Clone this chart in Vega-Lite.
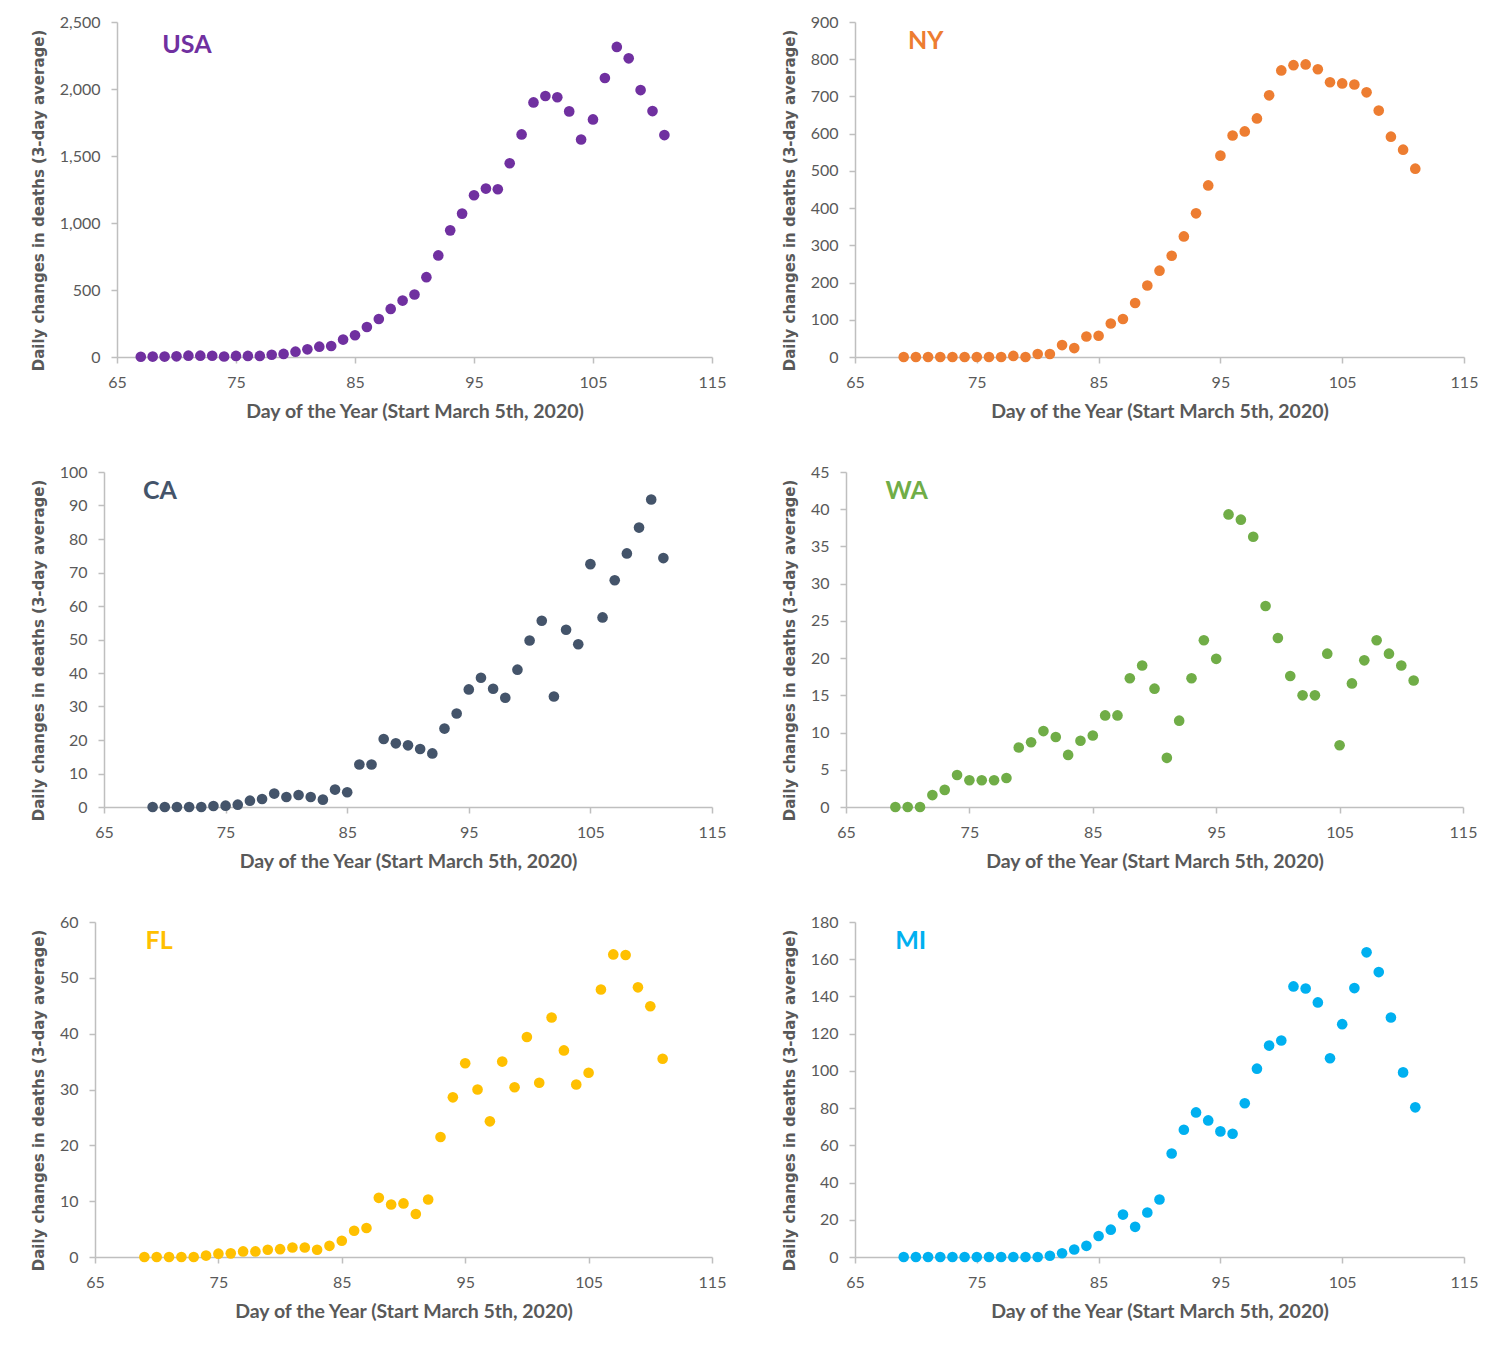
{
"$schema": "https://vega.github.io/schema/vega-lite/v6.json",
"padding": {"left": 31, "top": 14, "right": 5, "bottom": 5},
"background": "white",
"datasets": {
"deaths": [
{"state":"USA","day":67,"deaths":2},{"state":"USA","day":68,"deaths":3},{"state":"USA","day":69,"deaths":3},{"state":"USA","day":70,"deaths":5},{"state":"USA","day":71,"deaths":10},{"state":"USA","day":72,"deaths":10},{"state":"USA","day":73,"deaths":9},{"state":"USA","day":74,"deaths":4},{"state":"USA","day":75,"deaths":8},{"state":"USA","day":76,"deaths":8},{"state":"USA","day":77,"deaths":8},{"state":"USA","day":78,"deaths":17},{"state":"USA","day":79,"deaths":23},{"state":"USA","day":80,"deaths":40},{"state":"USA","day":81,"deaths":57},{"state":"USA","day":82,"deaths":77},{"state":"USA","day":83,"deaths":82},{"state":"USA","day":84,"deaths":130},{"state":"USA","day":85,"deaths":162},{"state":"USA","day":86,"deaths":224},{"state":"USA","day":87,"deaths":284},{"state":"USA","day":88,"deaths":359},{"state":"USA","day":89,"deaths":421},{"state":"USA","day":90,"deaths":466},{"state":"USA","day":91,"deaths":596},{"state":"USA","day":92,"deaths":758},{"state":"USA","day":93,"deaths":945},{"state":"USA","day":94,"deaths":1070},{"state":"USA","day":95,"deaths":1207},{"state":"USA","day":96,"deaths":1257},{"state":"USA","day":97,"deaths":1252},{"state":"USA","day":98,"deaths":1446},{"state":"USA","day":99,"deaths":1661},{"state":"USA","day":100,"deaths":1900},{"state":"USA","day":101,"deaths":1948},{"state":"USA","day":102,"deaths":1938},{"state":"USA","day":103,"deaths":1833},{"state":"USA","day":104,"deaths":1623},{"state":"USA","day":105,"deaths":1773},{"state":"USA","day":106,"deaths":2082},{"state":"USA","day":107,"deaths":2314},{"state":"USA","day":108,"deaths":2229},{"state":"USA","day":109,"deaths":1992},{"state":"USA","day":110,"deaths":1835},{"state":"USA","day":111,"deaths":1656},
{"state":"NY","day":69,"deaths":0},{"state":"NY","day":70,"deaths":0},{"state":"NY","day":71,"deaths":0},{"state":"NY","day":72,"deaths":0},{"state":"NY","day":73,"deaths":0},{"state":"NY","day":74,"deaths":0},{"state":"NY","day":75,"deaths":0},{"state":"NY","day":76,"deaths":0},{"state":"NY","day":77,"deaths":0},{"state":"NY","day":78,"deaths":3},{"state":"NY","day":79,"deaths":0},{"state":"NY","day":80,"deaths":8},{"state":"NY","day":81,"deaths":8},{"state":"NY","day":82,"deaths":32},{"state":"NY","day":83,"deaths":24},{"state":"NY","day":84,"deaths":55},{"state":"NY","day":85,"deaths":57},{"state":"NY","day":86,"deaths":90},{"state":"NY","day":87,"deaths":102},{"state":"NY","day":88,"deaths":145},{"state":"NY","day":89,"deaths":192},{"state":"NY","day":90,"deaths":232},{"state":"NY","day":91,"deaths":272},{"state":"NY","day":92,"deaths":324},{"state":"NY","day":93,"deaths":386},{"state":"NY","day":94,"deaths":461},{"state":"NY","day":95,"deaths":541},{"state":"NY","day":96,"deaths":595},{"state":"NY","day":97,"deaths":606},{"state":"NY","day":98,"deaths":641},{"state":"NY","day":99,"deaths":703},{"state":"NY","day":100,"deaths":770},{"state":"NY","day":101,"deaths":784},{"state":"NY","day":102,"deaths":786},{"state":"NY","day":103,"deaths":773},{"state":"NY","day":104,"deaths":738},{"state":"NY","day":105,"deaths":735},{"state":"NY","day":106,"deaths":732},{"state":"NY","day":107,"deaths":711},{"state":"NY","day":108,"deaths":662},{"state":"NY","day":109,"deaths":592},{"state":"NY","day":110,"deaths":557},{"state":"NY","day":111,"deaths":506},
{"state":"CA","day":69,"deaths":0},{"state":"CA","day":70,"deaths":0},{"state":"CA","day":71,"deaths":0},{"state":"CA","day":72,"deaths":0},{"state":"CA","day":73,"deaths":0},{"state":"CA","day":74,"deaths":0.3},{"state":"CA","day":75,"deaths":0.4},{"state":"CA","day":76,"deaths":0.7},{"state":"CA","day":77,"deaths":1.9},{"state":"CA","day":78,"deaths":2.4},{"state":"CA","day":79,"deaths":4},{"state":"CA","day":80,"deaths":3},{"state":"CA","day":81,"deaths":3.6},{"state":"CA","day":82,"deaths":3},{"state":"CA","day":83,"deaths":2.2},{"state":"CA","day":84,"deaths":5.2},{"state":"CA","day":85,"deaths":4.4},{"state":"CA","day":86,"deaths":12.7},{"state":"CA","day":87,"deaths":12.7},{"state":"CA","day":88,"deaths":20.3},{"state":"CA","day":89,"deaths":19},{"state":"CA","day":90,"deaths":18.4},{"state":"CA","day":91,"deaths":17.3},{"state":"CA","day":92,"deaths":16},{"state":"CA","day":93,"deaths":23.4},{"state":"CA","day":94,"deaths":27.9},{"state":"CA","day":95,"deaths":35.1},{"state":"CA","day":96,"deaths":38.6},{"state":"CA","day":97,"deaths":35.3},{"state":"CA","day":98,"deaths":32.6},{"state":"CA","day":99,"deaths":41},{"state":"CA","day":100,"deaths":49.7},{"state":"CA","day":101,"deaths":55.6},{"state":"CA","day":102,"deaths":33},{"state":"CA","day":103,"deaths":52.9},{"state":"CA","day":104,"deaths":48.6},{"state":"CA","day":105,"deaths":72.5},{"state":"CA","day":106,"deaths":56.6},{"state":"CA","day":107,"deaths":67.7},{"state":"CA","day":108,"deaths":75.7},{"state":"CA","day":109,"deaths":83.4},{"state":"CA","day":110,"deaths":91.8},{"state":"CA","day":111,"deaths":74.3},
{"state":"WA","day":69,"deaths":0},{"state":"WA","day":70,"deaths":0},{"state":"WA","day":71,"deaths":0},{"state":"WA","day":72,"deaths":1.6},{"state":"WA","day":73,"deaths":2.3},{"state":"WA","day":74,"deaths":4.3},{"state":"WA","day":75,"deaths":3.6},{"state":"WA","day":76,"deaths":3.6},{"state":"WA","day":77,"deaths":3.6},{"state":"WA","day":78,"deaths":3.9},{"state":"WA","day":79,"deaths":8},{"state":"WA","day":80,"deaths":8.7},{"state":"WA","day":81,"deaths":10.2},{"state":"WA","day":82,"deaths":9.4},{"state":"WA","day":83,"deaths":7},{"state":"WA","day":84,"deaths":8.9},{"state":"WA","day":85,"deaths":9.6},{"state":"WA","day":86,"deaths":12.3},{"state":"WA","day":87,"deaths":12.3},{"state":"WA","day":88,"deaths":17.3},{"state":"WA","day":89,"deaths":19},{"state":"WA","day":90,"deaths":15.9},{"state":"WA","day":91,"deaths":6.6},{"state":"WA","day":92,"deaths":11.6},{"state":"WA","day":93,"deaths":17.3},{"state":"WA","day":94,"deaths":22.4},{"state":"WA","day":95,"deaths":19.9},{"state":"WA","day":96,"deaths":39.3},{"state":"WA","day":97,"deaths":38.6},{"state":"WA","day":98,"deaths":36.3},{"state":"WA","day":99,"deaths":27},{"state":"WA","day":100,"deaths":22.7},{"state":"WA","day":101,"deaths":17.6},{"state":"WA","day":102,"deaths":15},{"state":"WA","day":103,"deaths":15},{"state":"WA","day":104,"deaths":20.6},{"state":"WA","day":105,"deaths":8.3},{"state":"WA","day":106,"deaths":16.6},{"state":"WA","day":107,"deaths":19.7},{"state":"WA","day":108,"deaths":22.4},{"state":"WA","day":109,"deaths":20.6},{"state":"WA","day":110,"deaths":19},{"state":"WA","day":111,"deaths":17},
{"state":"FL","day":69,"deaths":0},{"state":"FL","day":70,"deaths":0},{"state":"FL","day":71,"deaths":0},{"state":"FL","day":72,"deaths":0},{"state":"FL","day":73,"deaths":0},{"state":"FL","day":74,"deaths":0.25},{"state":"FL","day":75,"deaths":0.6},{"state":"FL","day":76,"deaths":0.65},{"state":"FL","day":77,"deaths":1},{"state":"FL","day":78,"deaths":1},{"state":"FL","day":79,"deaths":1.3},{"state":"FL","day":80,"deaths":1.4},{"state":"FL","day":81,"deaths":1.7},{"state":"FL","day":82,"deaths":1.7},{"state":"FL","day":83,"deaths":1.3},{"state":"FL","day":84,"deaths":2},{"state":"FL","day":85,"deaths":2.9},{"state":"FL","day":86,"deaths":4.7},{"state":"FL","day":87,"deaths":5.2},{"state":"FL","day":88,"deaths":10.6},{"state":"FL","day":89,"deaths":9.4},{"state":"FL","day":90,"deaths":9.6},{"state":"FL","day":91,"deaths":7.7},{"state":"FL","day":92,"deaths":10.3},{"state":"FL","day":93,"deaths":21.5},{"state":"FL","day":94,"deaths":28.6},{"state":"FL","day":95,"deaths":34.7},{"state":"FL","day":96,"deaths":30},{"state":"FL","day":97,"deaths":24.3},{"state":"FL","day":98,"deaths":35},{"state":"FL","day":99,"deaths":30.4},{"state":"FL","day":100,"deaths":39.4},{"state":"FL","day":101,"deaths":31.2},{"state":"FL","day":102,"deaths":42.9},{"state":"FL","day":103,"deaths":37},{"state":"FL","day":104,"deaths":30.9},{"state":"FL","day":105,"deaths":33},{"state":"FL","day":106,"deaths":47.9},{"state":"FL","day":107,"deaths":54.2},{"state":"FL","day":108,"deaths":54.1},{"state":"FL","day":109,"deaths":48.3},{"state":"FL","day":110,"deaths":44.9},{"state":"FL","day":111,"deaths":35.5},
{"state":"MI","day":69,"deaths":0},{"state":"MI","day":70,"deaths":0},{"state":"MI","day":71,"deaths":0},{"state":"MI","day":72,"deaths":0},{"state":"MI","day":73,"deaths":0},{"state":"MI","day":74,"deaths":0},{"state":"MI","day":75,"deaths":0},{"state":"MI","day":76,"deaths":0},{"state":"MI","day":77,"deaths":0},{"state":"MI","day":78,"deaths":0},{"state":"MI","day":79,"deaths":0},{"state":"MI","day":80,"deaths":0},{"state":"MI","day":81,"deaths":0.7},{"state":"MI","day":82,"deaths":2},{"state":"MI","day":83,"deaths":4},{"state":"MI","day":84,"deaths":6},{"state":"MI","day":85,"deaths":11.3},{"state":"MI","day":86,"deaths":14.7},{"state":"MI","day":87,"deaths":22.8},{"state":"MI","day":88,"deaths":16.2},{"state":"MI","day":89,"deaths":23.9},{"state":"MI","day":90,"deaths":30.9},{"state":"MI","day":91,"deaths":55.6},{"state":"MI","day":92,"deaths":68.4},{"state":"MI","day":93,"deaths":77.7},{"state":"MI","day":94,"deaths":73.4},{"state":"MI","day":95,"deaths":67.5},{"state":"MI","day":96,"deaths":66.2},{"state":"MI","day":97,"deaths":82.6},{"state":"MI","day":98,"deaths":101.2},{"state":"MI","day":99,"deaths":113.6},{"state":"MI","day":100,"deaths":116.3},{"state":"MI","day":101,"deaths":145.4},{"state":"MI","day":102,"deaths":144.3},{"state":"MI","day":103,"deaths":136.8},{"state":"MI","day":104,"deaths":106.8},{"state":"MI","day":105,"deaths":125.1},{"state":"MI","day":106,"deaths":144.5},{"state":"MI","day":107,"deaths":163.7},{"state":"MI","day":108,"deaths":153.1},{"state":"MI","day":109,"deaths":128.7},{"state":"MI","day":110,"deaths":99.2},{"state":"MI","day":111,"deaths":80.4}
]
},
"columns": 2,
"align": "none",
"spacing": {"row": 43, "column": 56},
"concat": [
{"width": 617, "height": 335, "layer": [
 {"data": {"name": "deaths"}, "transform": [{"filter": "datum.state === 'USA'"}], "mark": {"type": "circle", "size": 113, "opacity": 1, "color": "#7030A0"},
  "encoding": {"x": {"field": "day", "type": "quantitative", "scale": {"domain": [65, 115], "nice": false, "zero": false, "range": [22, 617]}, "axis": {"values": [65, 75, 85, 95, 105, 115], "title": "Day of the Year (Start March 5th, 2020)"}},
   "y": {"field": "deaths", "type": "quantitative", "scale": {"domain": [0, 2500], "nice": false}, "axis": {"values": [0, 500, 1000, 1500, 2000, 2500], "tickCount": 20, "offset": -22, "format": ",.0f", "title": "Daily changes in deaths (3-day average)"}}}},
 {"data": {"values": [{}]}, "mark": {"type": "text", "text": "USA", "align": "left", "baseline": "middle", "font": "Lato", "fontWeight": "bold", "fontSize": 25, "color": "#7030A0"},
  "encoding": {"x": {"datum": 68.8, "type": "quantitative"}, "y": {"datum": 2328, "type": "quantitative"}}}
]},
{"width": 617, "height": 335, "layer": [
 {"data": {"name": "deaths"}, "transform": [{"filter": "datum.state === 'NY'"}], "mark": {"type": "circle", "size": 113, "opacity": 1, "color": "#ED7D31"},
  "encoding": {"x": {"field": "day", "type": "quantitative", "scale": {"domain": [65, 115], "nice": false, "zero": false, "range": [8, 617]}, "axis": {"values": [65, 75, 85, 95, 105, 115], "title": "Day of the Year (Start March 5th, 2020)"}},
   "y": {"field": "deaths", "type": "quantitative", "scale": {"domain": [0, 900], "nice": false}, "axis": {"values": [0, 100, 200, 300, 400, 500, 600, 700, 800, 900], "tickCount": 20, "offset": -8, "title": "Daily changes in deaths (3-day average)"}}}},
 {"data": {"values": [{}]}, "mark": {"type": "text", "text": "NY", "align": "left", "baseline": "middle", "font": "Lato", "fontWeight": "bold", "fontSize": 25, "color": "#ED7D31"},
  "encoding": {"x": {"datum": 69.35, "type": "quantitative"}, "y": {"datum": 849, "type": "quantitative"}}}
]},
{"width": 617, "height": 335, "layer": [
 {"data": {"name": "deaths"}, "transform": [{"filter": "datum.state === 'CA'"}], "mark": {"type": "circle", "size": 113, "opacity": 1, "color": "#44546A"},
  "encoding": {"x": {"field": "day", "type": "quantitative", "scale": {"domain": [65, 115], "nice": false, "zero": false, "range": [9, 617]}, "axis": {"values": [65, 75, 85, 95, 105, 115], "title": "Day of the Year (Start March 5th, 2020)"}},
   "y": {"field": "deaths", "type": "quantitative", "scale": {"domain": [0, 100], "nice": false}, "axis": {"values": [0, 10, 20, 30, 40, 50, 60, 70, 80, 90, 100], "tickCount": 20, "offset": -9, "title": "Daily changes in deaths (3-day average)"}}}},
 {"data": {"values": [{}]}, "mark": {"type": "text", "text": "CA", "align": "left", "baseline": "middle", "font": "Lato", "fontWeight": "bold", "fontSize": 25, "color": "#44546A"},
  "encoding": {"x": {"datum": 68.2, "type": "quantitative"}, "y": {"datum": 94.3, "type": "quantitative"}}}
]},
{"width": 617, "height": 335, "layer": [
 {"data": {"name": "deaths"}, "transform": [{"filter": "datum.state === 'WA'"}], "mark": {"type": "circle", "size": 113, "opacity": 1, "color": "#70AD47"},
  "encoding": {"x": {"field": "day", "type": "quantitative", "scale": {"domain": [65, 115], "nice": false, "zero": false, "range": [0, 617]}, "axis": {"values": [65, 75, 85, 95, 105, 115], "title": "Day of the Year (Start March 5th, 2020)"}},
   "y": {"field": "deaths", "type": "quantitative", "scale": {"domain": [0, 45], "nice": false}, "axis": {"values": [0, 5, 10, 15, 20, 25, 30, 35, 40, 45], "tickCount": 20, "title": "Daily changes in deaths (3-day average)"}}}},
 {"data": {"values": [{}]}, "mark": {"type": "text", "text": "WA", "align": "left", "baseline": "middle", "font": "Lato", "fontWeight": "bold", "fontSize": 25, "color": "#70AD47"},
  "encoding": {"x": {"datum": 68.2, "type": "quantitative"}, "y": {"datum": 42.4, "type": "quantitative"}}}
]},
{"width": 617, "height": 335, "layer": [
 {"data": {"name": "deaths"}, "transform": [{"filter": "datum.state === 'FL'"}], "mark": {"type": "circle", "size": 113, "opacity": 1, "color": "#FFC000"},
  "encoding": {"x": {"field": "day", "type": "quantitative", "scale": {"domain": [65, 115], "nice": false, "zero": false, "range": [0, 617]}, "axis": {"values": [65, 75, 85, 95, 105, 115], "title": "Day of the Year (Start March 5th, 2020)"}},
   "y": {"field": "deaths", "type": "quantitative", "scale": {"domain": [0, 60], "nice": false}, "axis": {"values": [0, 10, 20, 30, 40, 50, 60], "tickCount": 20, "title": "Daily changes in deaths (3-day average)"}}}},
 {"data": {"values": [{}]}, "mark": {"type": "text", "text": "FL", "align": "left", "baseline": "middle", "font": "Lato", "fontWeight": "bold", "fontSize": 25, "color": "#FFC000"},
  "encoding": {"x": {"datum": 69.1, "type": "quantitative"}, "y": {"datum": 56.6, "type": "quantitative"}}}
]},
{"width": 617, "height": 335, "layer": [
 {"data": {"name": "deaths"}, "transform": [{"filter": "datum.state === 'MI'"}], "mark": {"type": "circle", "size": 113, "opacity": 1, "color": "#00B0F0"},
  "encoding": {"x": {"field": "day", "type": "quantitative", "scale": {"domain": [65, 115], "nice": false, "zero": false, "range": [8, 617]}, "axis": {"values": [65, 75, 85, 95, 105, 115], "title": "Day of the Year (Start March 5th, 2020)"}},
   "y": {"field": "deaths", "type": "quantitative", "scale": {"domain": [0, 180], "nice": false}, "axis": {"values": [0, 20, 40, 60, 80, 100, 120, 140, 160, 180], "tickCount": 20, "offset": -8, "title": "Daily changes in deaths (3-day average)"}}}},
 {"data": {"values": [{}]}, "mark": {"type": "text", "text": "MI", "align": "left", "baseline": "middle", "font": "Lato", "fontWeight": "bold", "fontSize": 25, "color": "#00B0F0"},
  "encoding": {"x": {"datum": 68.3, "type": "quantitative"}, "y": {"datum": 169.8, "type": "quantitative"}}}
]}
],
"config": {
 "view": {"stroke": null},
 "axis": {"grid": false, "domainColor": "#BFBFBF", "domainWidth": 1.5, "tickColor": "#BFBFBF", "tickWidth": 1.5, "tickSize": 6, "labelFont": "Lato", "labelFontSize": 16, "labelColor": "#595959", "titleColor": "#595959", "titleFontWeight": "bold", "labelOverlap": false, "labelFlush": false},
 "axisX": {"labelPadding": 11, "titleFont": "Lato", "titleFontSize": 19.5, "titlePadding": 12},
 "axisY": {"labelPadding": 11, "titleFont": "DejaVu Sans", "titleFontSize": 15, "titlePadding": 13, "titleY": 178}
}
}
